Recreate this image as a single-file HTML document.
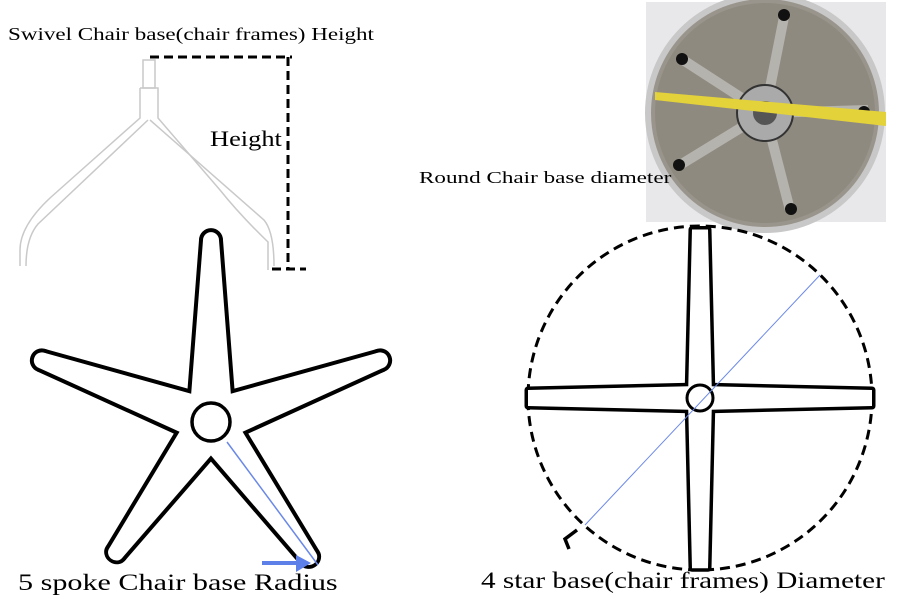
<!DOCTYPE html>
<html><head><style>
body{margin:0;width:900px;height:600px;background:#fff;overflow:hidden;position:relative;font-family:"Liberation Serif",serif}
.t{position:absolute;white-space:nowrap;color:#000;transform-origin:0 0}
</style></head><body>
<svg width="900" height="600" style="position:absolute;left:0;top:0">
<defs>
<g id="sp">
<polygon points="0,-22 0,22 180,8 180,-8"/>
<circle cx="180" cy="0" r="8"/>
</g>
<g id="sp4">
<polygon points="0,-12 0,12 172,8 172,-8"/>
</g>
</defs>
<!-- photo -->
<rect x="646" y="2" width="240" height="220" fill="#e8e8ea"/>
<circle cx="765" cy="113" r="117" fill="#9a958c" stroke="#c8c8c8" stroke-width="6"/>
<circle cx="765" cy="113" r="110" fill="#8f8a80"/>
<g stroke="#b5b3ae" stroke-width="10">
<line x1="765" y1="113" x2="785" y2="12"/><line x1="765" y1="113" x2="680" y2="58"/>
<line x1="765" y1="113" x2="680" y2="165"/><line x1="765" y1="113" x2="790" y2="210"/>
<line x1="765" y1="113" x2="868" y2="110"/></g>
<circle cx="765" cy="113" r="28" fill="#aaa" stroke="#333" stroke-width="2"/>
<circle cx="765" cy="113" r="12" fill="#555"/>
<g fill="#111"><circle cx="784" cy="15" r="6"/><circle cx="682" cy="59" r="6"/><circle cx="679" cy="165" r="6"/><circle cx="791" cy="209" r="6"/><circle cx="864" cy="112" r="6"/></g>
<polygon points="655,92 886,112 886,126 655,100" fill="#e3d23a"/>
<!-- chair side -->
<g fill="none" stroke="#c9c9c9" stroke-width="1.5">
<path d="M143 60 h12 v28 h-12z"/>
<path d="M140 88 h18 v30 l62 72 q20 25 48 52 v28 M140 88 v30 l-90 80 q-30 28 -30 52 v16"/>
<path d="M148 120 l-110 104 q-12 14 -12 42 M150 120 l114 100 q10 12 10 46"/>
</g>
<g stroke="#000" stroke-width="3" stroke-dasharray="9,5" fill="none">
<line x1="150" y1="57" x2="292" y2="57"/>
<line x1="288" y1="57" x2="288" y2="268"/>
<line x1="272" y1="269" x2="306" y2="269"/>
</g>
<!-- 5 spoke -->
<g transform="translate(211,422)">
<g stroke="#000" stroke-width="8" stroke-linejoin="round" fill="#000">
<use href="#sp" transform="rotate(-90) scale(1.01,1)"/>
<use href="#sp" transform="rotate(-160)"/>
<use href="#sp" transform="rotate(-20)"/>
<use href="#sp" transform="rotate(126) scale(0.9,1)"/>
<use href="#sp" transform="rotate(54) scale(0.93,1)"/>
</g>
<g fill="#fff">
<use href="#sp" transform="rotate(-90) scale(1.01,1)"/>
<use href="#sp" transform="rotate(-160)"/>
<use href="#sp" transform="rotate(-20)"/>
<use href="#sp" transform="rotate(126) scale(0.9,1)"/>
<use href="#sp" transform="rotate(54) scale(0.93,1)"/>
</g>
<circle r="19" fill="#fff" stroke="#000" stroke-width="3.5"/>
</g>
<line x1="227" y1="442" x2="318" y2="565" stroke="#6a88e8" stroke-width="1.5"/>
<line x1="262" y1="563" x2="300" y2="563" stroke="#5c7fe8" stroke-width="4"/>
<polygon points="296,555 311,563 296,572" fill="#5c7fe8"/>
<!-- 4 star -->
<circle cx="700" cy="398" r="172" fill="none" stroke="#000" stroke-width="3" stroke-dasharray="10,6"/>
<g transform="translate(700,398)">
<g stroke="#000" stroke-width="7" stroke-linejoin="round" fill="#000">
<use href="#sp4" transform="rotate(-90) scale(0.98,1)"/><use href="#sp4" transform="rotate(90) scale(0.99,1)"/>
<use href="#sp4" transform="rotate(0)"/><use href="#sp4" transform="rotate(180)"/>
</g>
<g fill="#fff">
<use href="#sp4" transform="rotate(-90) scale(0.98,1)"/><use href="#sp4" transform="rotate(90) scale(0.99,1)"/>
<use href="#sp4" transform="rotate(0)"/><use href="#sp4" transform="rotate(180)"/>
</g>
<circle r="13" fill="#fff" stroke="#000" stroke-width="3"/>
</g>
<line x1="585" y1="525" x2="820" y2="275" stroke="#6a88e8" stroke-width="1"/>
<path d="M569 549 l-4 -10 l12 -9" fill="none" stroke="#000" stroke-width="3.5"/>
</svg>
<div class="t" style="left:8px;top:24px;font-size:18px;transform:scaleX(1.28)">Swivel Chair base(chair frames) Height</div>
<div class="t" style="left:210px;top:126px;font-size:22px;transform:scaleX(1.2)">Height</div>
<div class="t" style="left:419px;top:168px;font-size:17px;transform:scaleX(1.36)">Round Chair base diameter</div>
<div class="t" style="left:18px;top:570px;font-size:23px;transform:scaleX(1.31)">5 spoke Chair base Radius</div>
<div class="t" style="left:481px;top:568px;font-size:23px;transform:scaleX(1.27)">4 star base(chair frames) Diameter</div>
</body></html>
